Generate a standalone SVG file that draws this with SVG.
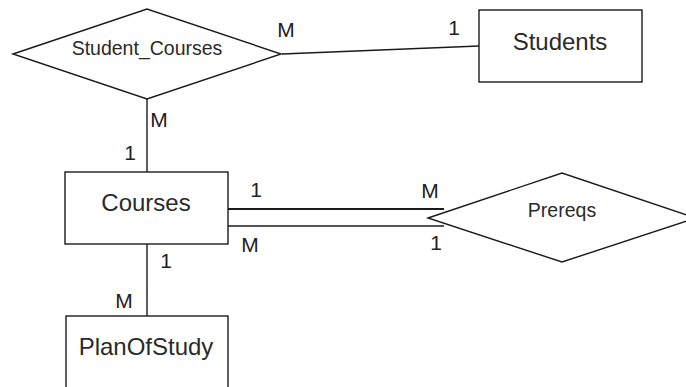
<svg xmlns="http://www.w3.org/2000/svg" width="686" height="387" viewBox="0 0 686 387">
<style>
.shape{fill:#fff;stroke:#1a1a1a;stroke-width:1.4}
.line{fill:none;stroke:#1a1a1a;stroke-width:1.4}
.t{font-family:"Liberation Sans",Arial,sans-serif;fill:#2a2a2a;text-anchor:middle}
.big{font-size:24px}
.small{font-size:19.5px}
.lab{font-family:"Liberation Sans",Arial,sans-serif;font-size:21px;fill:#222;text-anchor:middle}
</style>
<rect width="686" height="387" fill="#fff"/>
<g id="connectors">
<line class="line" x1="282" y1="54" x2="479" y2="46"/>
<line class="line" x1="147" y1="99" x2="147" y2="172"/>
<line class="line" x1="228" y1="209" x2="444" y2="209" style="stroke-width:2"/>
<line class="line" x1="228" y1="226" x2="444" y2="226"/>
<line class="line" x1="147" y1="244" x2="147" y2="316"/>
<text class="lab" x="286" y="37">M</text>
<text class="lab" x="454" y="35">1</text>
<text class="lab" x="159" y="127">M</text>
<text class="lab" x="130" y="160">1</text>
<text class="lab" x="256" y="197">1</text>
<text class="lab" x="430" y="198">M</text>
<text class="lab" x="250" y="252">M</text>
<text class="lab" x="436" y="250">1</text>
<text class="lab" x="166" y="268">1</text>
<text class="lab" x="124" y="308">M</text>
</g>
<g id="student_courses">
<polygon class="shape" points="13,54 147,9 281,54 147,99"/>
<text class="t small" x="147" y="55">Student_Courses</text>
</g>
<g id="students">
<rect class="shape" x="479" y="10" width="163" height="72"/>
<text class="t big" x="560" y="50">Students</text>
</g>
<g id="courses">
<rect class="shape" x="65" y="172" width="163" height="72"/>
<text class="t big" x="146" y="211">Courses</text>
</g>
<g id="prereqs">
<polygon class="shape" points="428,218 562,173 696,218 562,262"/>
<text class="t small" x="562" y="217">Prereqs</text>
</g>
<g id="planofstudy">
<rect class="shape" x="66" y="316" width="162" height="90"/>
<text class="t big" x="146" y="355">PlanOfStudy</text>
</g>
</svg>
